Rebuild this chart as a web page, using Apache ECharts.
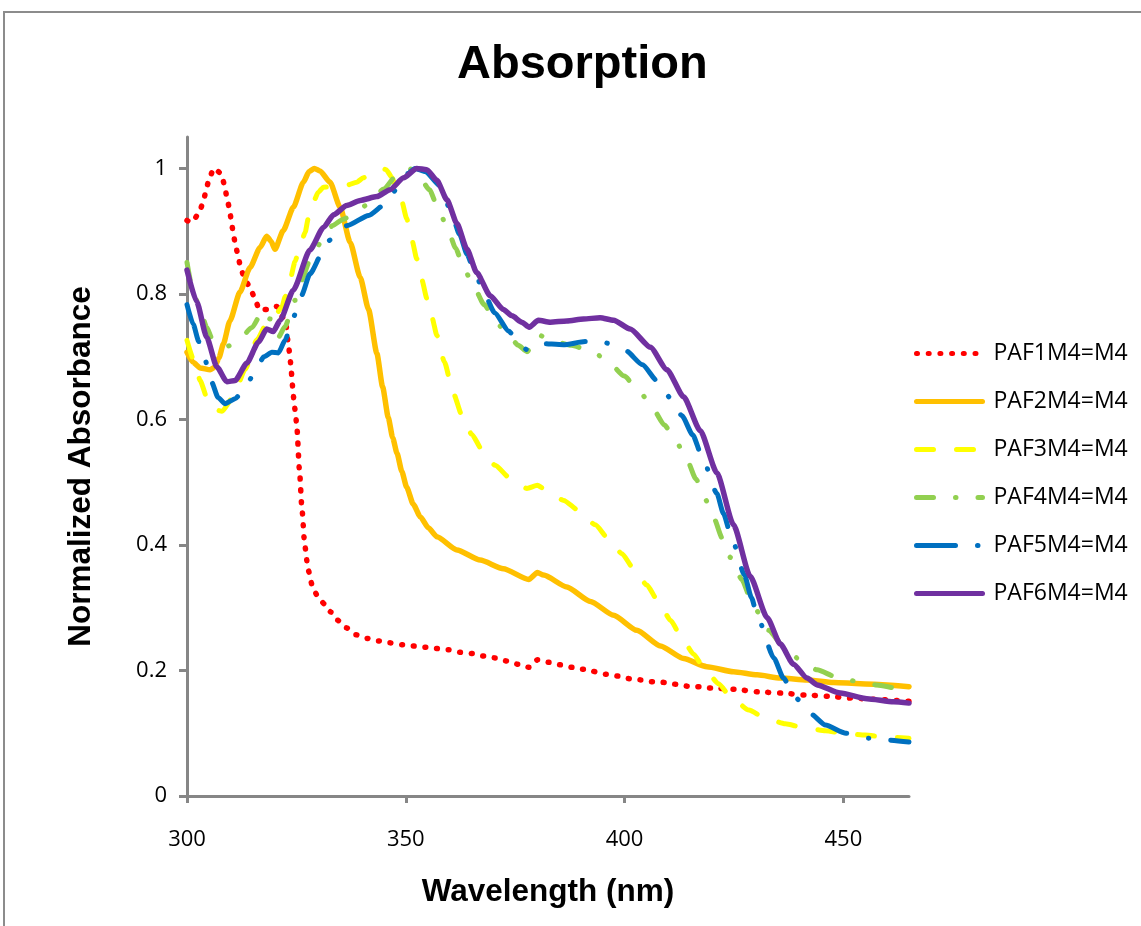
<!DOCTYPE html>
<html><head><meta charset="utf-8">
<script src="https://cdn.jsdelivr.net/npm/echarts@6/dist/echarts.min.js"></script>
<style>html,body{margin:0;padding:0;background:#fff}#c{width:1141px;height:926px}</style>
</head><body><div id="c"></div>
<script>
const seriesNames = ['PAF1M4=M4','PAF2M4=M4','PAF3M4=M4','PAF4M4=M4','PAF5M4=M4','PAF6M4=M4'];
const xTicks = [300, 350, 400, 450];
const yTicks = [0, 0.2, 0.4, 0.6, 0.8, 1];

const paf1 = [[300,0.917],[301.1,0.914],[302.7,0.928],[303.7,0.946],[304.3,0.963],[305.0,0.982],[306.1,1.000],[307.8,0.992],[308.6,0.973],[309.1,0.954],[309.7,0.936],[310.1,0.918],[310.5,0.900],[311.0,0.881],[311.6,0.863],[312.2,0.844],[313.0,0.827],[314.4,0.810],[315.5,0.793],[316.5,0.775],[318.4,0.775],[320.5,0.780],[322.5,0.756],[323.2,0.719],[323.5,0.701],[323.8,0.682],[324.0,0.663],[324.2,0.645],[324.5,0.626],[324.8,0.608],[325.1,0.589],[325.7,0.519],[326.3,0.455],[326.9,0.400],[327.7,0.360],[328.6,0.336],[329.7,0.320],[331.4,0.306],[332.9,0.293],[334.4,0.280],[336.4,0.268],[338.6,0.257],[341.2,0.251],[343.8,0.247],[346.4,0.244],[349.2,0.241],[351.8,0.239],[354.5,0.237],[357.1,0.235],[359.8,0.233],[362.4,0.229],[365.2,0.227],[367.8,0.223],[370.4,0.220],[373.1,0.215],[375.6,0.210],[378.2,0.205],[380.1,0.217],[382.7,0.213],[385.3,0.209],[388.0,0.205],[390.6,0.202],[395.8,0.194],[398.5,0.191],[401.1,0.187],[403.7,0.185],[406.4,0.182],[409.1,0.181],[411.8,0.178],[414.4,0.175],[417.1,0.174],[419.8,0.172],[425.1,0.170],[430.4,0.166],[435.8,0.164],[441.1,0.161],[446.4,0.159],[451.6,0.156],[457.3,0.154],[465,0.151]];

const paf2 = [[300,0.707],[301.4,0.691],[303.0,0.682],[305.3,0.679],[306.3,0.683],[307.3,0.698],[308.3,0.720],[309.8,0.757],[312.1,0.803],[314.4,0.842],[316.7,0.874],[318.2,0.892],[319.2,0.884],[320.1,0.871],[322.0,0.901],[324.3,0.938],[326.6,0.978],[327.9,0.995],[329.1,1.000],[330.4,0.996],[332.7,0.978],[335.0,0.938],[337.3,0.882],[339.6,0.826],[341.5,0.775],[343.4,0.705],[344.7,0.652],[346.0,0.603],[347.0,0.571],[348.0,0.546],[349.1,0.517],[350.2,0.492],[351.7,0.465],[353.3,0.445],[355.2,0.427],[357.1,0.413],[361.7,0.392],[367.0,0.376],[372.3,0.362],[378.1,0.345],[380.1,0.356],[381.5,0.352],[386.8,0.333],[392.2,0.310],[397.5,0.288],[402.8,0.264],[408.2,0.239],[413.5,0.219],[418.8,0.206],[424.9,0.198],[430.3,0.193],[435.6,0.188],[441.7,0.185],[447.8,0.181],[453.9,0.179],[460.0,0.177],[465,0.174]];

const paf3 = [[300,0.726],[301.8,0.690],[303.0,0.662],[304.6,0.634],[306.2,0.616],[308.0,0.613],[310.5,0.635],[313.3,0.680],[316.0,0.727],[318.2,0.753],[320.1,0.765],[321.7,0.779],[322.4,0.795],[323.6,0.824],[324.7,0.852],[325.8,0.875],[327.0,0.898],[327.7,0.920],[328.9,0.947],[330.0,0.962],[331.2,0.970],[333.8,0.971],[336.5,0.973],[338.8,0.978],[340.3,0.985],[342.3,0.994],[344.5,1.000],[345.5,0.998],[346.8,0.986],[347.8,0.971],[349.1,0.947],[350.2,0.920],[351.4,0.886],[352.5,0.856],[353.7,0.822],[354.8,0.793],[356.0,0.762],[357.1,0.734],[358.8,0.692],[360.9,0.641],[362.8,0.607],[365.1,0.576],[367.4,0.552],[370.4,0.527],[373.9,0.506],[377.7,0.490],[380.1,0.495],[381.5,0.490],[386.1,0.471],[389.5,0.455],[393.3,0.432],[396.3,0.410],[399.4,0.386],[402.1,0.362],[405.1,0.336],[407.8,0.309],[410.5,0.280],[413.2,0.250],[415.8,0.226],[418.1,0.204],[421.5,0.179],[424.2,0.158],[428.4,0.137],[432.2,0.124],[436.7,0.115],[440.9,0.109],[445.9,0.104],[450.9,0.099],[455.0,0.097],[459.2,0.094],[465,0.092]];

const paf4 = [[300,0.850],[301.1,0.813],[303.0,0.774],[304.5,0.747],[305.7,0.729],[307.2,0.718],[309.4,0.717],[311.7,0.726],[314.8,0.746],[317.4,0.774],[319.0,0.760],[320.1,0.738],[320.9,0.731],[322.4,0.748],[324.7,0.790],[326.2,0.822],[328.1,0.854],[329.7,0.874],[331.3,0.893],[333.3,0.909],[335.7,0.919],[338.2,0.928],[341.4,0.943],[344.9,0.967],[348.3,0.992],[350.6,1.000],[352.4,0.995],[355.4,0.966],[357.5,0.935],[359.4,0.906],[361.4,0.873],[363.2,0.842],[365.5,0.812],[367.9,0.783],[370.8,0.753],[373.9,0.730],[375.7,0.718],[377.7,0.708],[380.3,0.735],[383.0,0.726],[387.8,0.718],[392.5,0.709],[396.0,0.694],[399.9,0.669],[403.6,0.643],[406.3,0.619],[409.1,0.591],[412.0,0.562],[414.3,0.535],[416.3,0.505],[418.5,0.472],[420.4,0.443],[422.3,0.411],[424.2,0.380],[426.8,0.345],[428.6,0.318],[431.0,0.288],[432.9,0.264],[436.7,0.235],[440.6,0.214],[444.0,0.201],[448.6,0.189],[453.5,0.182],[457.7,0.177],[462.7,0.171],[465,0.169]];

const paf5 = [[300,0.783],[301.4,0.752],[302.7,0.724],[304.1,0.695],[305.6,0.660],[307.1,0.635],[308.7,0.625],[311.0,0.633],[313.3,0.650],[315.2,0.672],[317.6,0.700],[319.4,0.707],[320.9,0.706],[322.4,0.726],[324.3,0.763],[326.2,0.798],[328.1,0.832],[331.2,0.869],[332.7,0.886],[336.7,0.909],[341.5,0.925],[345.3,0.943],[348.0,0.968],[350.5,0.992],[352.1,1.000],[354.4,0.995],[357.9,0.972],[360.1,0.935],[362.3,0.895],[364.0,0.863],[365.9,0.832],[367.9,0.801],[370.3,0.770],[373.5,0.741],[375.7,0.723],[377.7,0.711],[379.1,0.715],[380.7,0.721],[386.0,0.719],[391.0,0.724],[395.6,0.722],[400.2,0.710],[404.1,0.687],[407.5,0.661],[410.5,0.634],[413.1,0.606],[415.6,0.575],[417.7,0.541],[421.1,0.482],[422.6,0.450],[424.4,0.413],[427.4,0.352],[429.0,0.316],[430.4,0.285],[434.1,0.220],[436.3,0.188],[439.0,0.157],[442.5,0.131],[445.9,0.113],[450.6,0.100],[455.8,0.092],[460.3,0.089],[465,0.086]];

const paf6 = [[300,0.838],[302.2,0.788],[304.5,0.731],[306.8,0.684],[309.1,0.660],[311.0,0.662],[313.7,0.690],[316.3,0.723],[318.2,0.744],[319.7,0.740],[321.3,0.758],[324.3,0.806],[328.1,0.870],[331.2,0.906],[333.5,0.926],[336.5,0.941],[339.6,0.949],[343.4,0.955],[346.4,0.966],[349.5,0.985],[352.5,1.000],[354.8,0.998],[357.1,0.981],[359.4,0.950],[361.7,0.912],[364.0,0.871],[366.2,0.834],[369.3,0.797],[372.3,0.775],[374.3,0.765],[376.5,0.755],[378.2,0.747],[380.3,0.758],[383.0,0.755],[386.8,0.757],[390.6,0.760],[394.4,0.762],[397.5,0.758],[401.3,0.744],[405.9,0.715],[409.7,0.679],[413.5,0.636],[417.3,0.582],[421.1,0.515],[424.9,0.432],[428.7,0.350],[432.6,0.284],[435.6,0.242],[438.6,0.210],[441.7,0.188],[444.0,0.177],[449.3,0.164],[455.4,0.155],[461.5,0.150],[465,0.148]];

const seriesData = [paf1, paf2, paf3, paf4, paf5, paf6];
const colors = ['#FF0000','#FFC000','#FFFF00','#92D050','#0070C0','#7030A0'];
const dashTypes = [[1, 10.7], 'solid', [17, 23], [17, 22, 0.5, 22], [39, 22, 0.5, 22], 'solid'];
const widths = [5.5, 5.5, 5, 5, 5, 5.5];

const chart = echarts.init(document.getElementById('c'), null, {renderer: 'canvas'});
const labelFont = 'Open Sans';
const axisColor = '#868686';

chart.setOption({
  animation: false,
  backgroundColor: '#ffffff',
  graphic: [{
    type: 'rect', silent: true, z: -10,
    shape: {x: 4, y: 12, width: 1300, height: 1000},
    style: {fill: 'none', stroke: '#8c8c8c', lineWidth: 2}
  }],
  title: {
    text: 'Absorption', left: 452, top: 37,
    textStyle: {fontSize: 47, fontWeight: 'bold', fontFamily: 'Liberation Sans', color: '#000'}
  },
  legend: {
    orient: 'vertical', left: 909, top: 337,
    itemWidth: 66, itemHeight: 22, itemGap: 25,
    data: seriesNames,
    itemStyle: {opacity: 0},
    lineStyle: {width: 5, cap: 'round'},
    textStyle: {fontSize: 23, fontFamily: labelFont, color: '#000', padding: [0, 0, 0, 6]}
  },
  grid: {left: 187, right: 232, top: 137, bottom: 130, containLabel: false},
  xAxis: {
    type: 'value', min: 300, max: 465,
    name: 'Wavelength (nm)', nameLocation: 'middle', nameGap: 80,
    nameTextStyle: {fontSize: 31.5, fontWeight: 'bold', fontFamily: 'Liberation Sans', color: '#000'},
    axisLine: {show: true, onZero: false, lineStyle: {color: axisColor, width: 3}},
    axisTick: {show: true, inside: false, length: 7, customValues: xTicks, lineStyle: {color: axisColor, width: 3}},
    axisLabel: {customValues: xTicks, margin: 33, fontSize: 22, fontFamily: labelFont, color: '#000'},
    splitLine: {show: false}
  },
  yAxis: {
    type: 'value', min: 0, max: 1.05,
    name: 'Normalized Absorbance', nameLocation: 'middle', nameGap: 90, nameRotate: 90,
    nameTextStyle: {fontSize: 31.5, fontWeight: 'bold', fontFamily: 'Liberation Sans', color: '#000'},
    axisLine: {show: true, onZero: false, lineStyle: {color: axisColor, width: 3}},
    axisTick: {show: true, inside: false, length: 8, customValues: yTicks, lineStyle: {color: axisColor, width: 3}},
    axisLabel: {customValues: yTicks, margin: 20, fontSize: 22, fontFamily: labelFont, color: '#000',
      formatter: v => String(Math.round(v * 10) / 10)},
    splitLine: {show: false}
  },
  series: seriesNames.map((n, i) => ({
    name: n, type: 'line', data: seriesData[i],
    symbol: 'none', smooth: 0.2, smoothMonotone: 'x',
    color: colors[i],
    lineStyle: {color: colors[i], width: widths[i], type: dashTypes[i], cap: 'round', join: 'round'}
  }))
});
</script></body></html>
